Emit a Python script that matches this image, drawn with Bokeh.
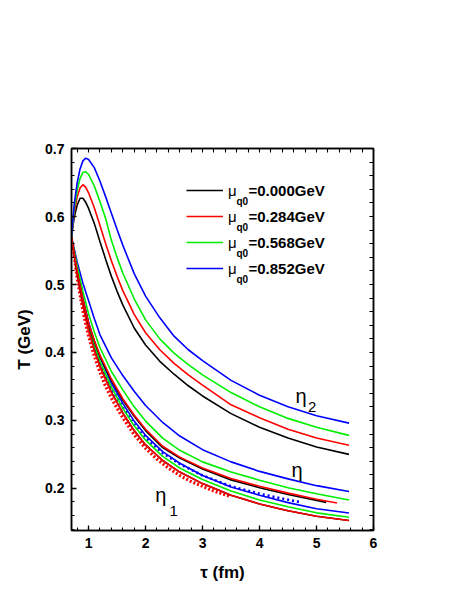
from bokeh.plotting import figure
from bokeh.models import (Range1d, LinearAxis, SingleIntervalTicker, FixedTicker, PrintfTickFormatter,
                          Label, Legend, LegendItem)
from bokeh.embed import file_html
from bokeh.resources import INLINE

# ---------------- data ----------------
tau_eta2 = [0.70, 0.75, 0.80, 0.85, 0.90, 0.95, 1.00, 1.10, 1.20, 1.30, 1.40, 1.50,
            1.60, 1.80, 2.00, 2.25, 2.50, 2.75, 3.00, 3.50, 4.00, 4.50, 5.00, 5.57]
T_eta2_black = [0.571, 0.600, 0.617, 0.627, 0.627, 0.621, 0.612, 0.590, 0.563, 0.537, 0.512, 0.490,
                0.470, 0.436, 0.411, 0.387, 0.368, 0.351, 0.336, 0.310, 0.290, 0.274, 0.261, 0.250]
T_eta2_red = [0.571, 0.607, 0.629, 0.642, 0.647, 0.643, 0.635, 0.613, 0.587, 0.560, 0.535, 0.512,
              0.491, 0.456, 0.429, 0.404, 0.384, 0.367, 0.352, 0.323, 0.304, 0.287, 0.274, 0.2635]
T_eta2_green = [0.571, 0.613, 0.639, 0.656, 0.665, 0.666, 0.662, 0.645, 0.622, 0.597, 0.565, 0.540,
                0.517, 0.479, 0.448, 0.420, 0.399, 0.382, 0.367, 0.341, 0.320, 0.303, 0.290, 0.278]
T_eta2_blue = [0.571, 0.620, 0.650, 0.670, 0.682, 0.686, 0.684, 0.672, 0.652, 0.629, 0.605, 0.581,
               0.558, 0.516, 0.483, 0.451, 0.424, 0.404, 0.388, 0.359, 0.337, 0.320, 0.307, 0.296]

tau_eta = [0.70, 0.80, 0.90, 1.00, 1.10, 1.20, 1.40, 1.60, 1.80, 2.00, 2.30, 2.60,
           3.00, 3.50, 4.00, 4.50, 5.00, 5.57]
T_eta_blue = [0.570, 0.533, 0.502, 0.476, 0.450, 0.426, 0.392, 0.366, 0.343, 0.322, 0.297, 0.277,
              0.257, 0.239, 0.225, 0.214, 0.204, 0.1955]
T_eta_green = [0.570, 0.527, 0.490, 0.457, 0.430, 0.407, 0.372, 0.345, 0.320, 0.299, 0.274, 0.256,
               0.239, 0.224, 0.212, 0.201, 0.192, 0.183]
tau_eta_black = [0.70, 0.80, 0.90, 1.00, 1.10, 1.20, 1.40, 1.60, 1.80, 2.00, 2.30, 2.60,
                 3.00, 3.50, 4.00, 4.50, 5.17]
T_eta_black = [0.570, 0.518, 0.477, 0.442, 0.417, 0.394, 0.359, 0.330, 0.306, 0.285, 0.260, 0.2447,
               0.2285, 0.2125, 0.201, 0.191, 0.1794]
tau_eta_red = [0.70, 0.80, 0.90, 1.00, 1.10, 1.20, 1.40, 1.60, 1.80, 2.00, 2.30, 2.60,
               3.00, 3.50, 4.00, 4.50, 5.00, 5.36]
T_eta_red = [0.570, 0.519, 0.478, 0.443, 0.418, 0.396, 0.361, 0.332, 0.308, 0.287, 0.262, 0.246,
             0.230, 0.2145, 0.203, 0.193, 0.184, 0.1784]

tau_eta1 = [0.70, 0.80, 0.90, 1.00, 1.10, 1.20, 1.40, 1.60, 1.80, 2.00, 2.30, 2.60,
            3.00, 3.50, 4.00, 4.50, 5.00, 5.57]
T_eta1_black = [0.570, 0.515, 0.470, 0.433, 0.404, 0.380, 0.342, 0.311, 0.285, 0.264, 0.241, 0.224,
                0.207, 0.190, 0.177, 0.167, 0.159, 0.1526]
T_eta1_red = [0.570, 0.514, 0.469, 0.432, 0.403, 0.379, 0.341, 0.311, 0.285, 0.264, 0.241, 0.224,
              0.207, 0.190, 0.177, 0.167, 0.159, 0.1526]
T_eta1_green = [0.570, 0.520, 0.476, 0.440, 0.411, 0.387, 0.349, 0.318, 0.292, 0.271, 0.247, 0.230,
                0.213, 0.196, 0.183, 0.173, 0.164, 0.1575]
T_eta1_blue = [0.570, 0.523, 0.480, 0.445, 0.416, 0.393, 0.355, 0.325, 0.299, 0.278, 0.254, 0.237,
               0.219, 0.202, 0.190, 0.179, 0.170, 0.1638]

tau_dots_red = [0.72, 0.76, 0.80, 0.85, 0.90, 0.95, 1.00, 1.10, 1.20, 1.30, 1.40, 1.50,
                1.60, 1.80, 2.00, 2.20, 2.40, 2.60, 2.80, 3.00, 3.20, 3.50]
T_dots_red = [0.560, 0.535, 0.510, 0.485, 0.462, 0.442, 0.424, 0.395, 0.371, 0.350, 0.333, 0.318,
              0.304, 0.279, 0.259, 0.243, 0.230, 0.219, 0.210, 0.203, 0.196, 0.188]
tau_dots_blue = [1.10, 1.20, 1.40, 1.60, 1.80, 2.00, 2.30, 2.60, 3.00, 3.50, 4.00, 4.40, 4.70]
T_dots_blue = [0.405, 0.383, 0.348, 0.319, 0.294, 0.274, 0.252, 0.236, 0.219, 0.203, 0.192, 0.185, 0.180]

mu_labels = ["0.000GeV", "0.284GeV", "0.568GeV", "0.852GeV"]
colors = ["#000000", "#FF0000", "#00EE00", "#0000FF"]

x_ticks_minor = [round(0.8 + 0.2 * i, 2) for i in range(27)]
y_ticks_minor = [round(0.14 + 0.02 * i, 2) for i in range(29)]

FONT = "Liberation Sans"

p = figure(width=428, height=584, output_backend="svg", toolbar_location=None,
           x_range=Range1d(0.7, 6.0), y_range=Range1d(0.138, 0.7002),
           min_border_left=71, min_border_right=55, min_border_top=148, min_border_bottom=51)
p.xgrid.visible = False
p.ygrid.visible = False
p.outline_line_color = "black"
p.outline_line_width = 1.5
p.background_fill_color = "white"
p.border_fill_color = "white"

LW = 1.6
# dotted numeric series
p.line(tau_dots_red, T_dots_red, line_color="#FF0000", line_width=3.2, line_dash="2 2")
p.line(tau_dots_blue, T_dots_blue, line_color="#0000FF", line_width=2.6, line_dash="2 3")

# lower (eta1) group
p.line(tau_eta1, T_eta1_blue, line_color=colors[3], line_width=LW)
p.line(tau_eta1, T_eta1_green, line_color=colors[2], line_width=LW)
p.line(tau_eta1, T_eta1_black, line_color=colors[0], line_width=LW)
p.line(tau_eta1, T_eta1_red, line_color=colors[1], line_width=LW)
# middle (eta) group
p.line(tau_eta, T_eta_blue, line_color=colors[3], line_width=LW)
p.line(tau_eta, T_eta_green, line_color=colors[2], line_width=LW)
p.line(tau_eta_black, T_eta_black, line_color=colors[0], line_width=LW)
p.line(tau_eta_red, T_eta_red, line_color=colors[1], line_width=LW)
# upper (eta2) group
r_black = p.line(tau_eta2, T_eta2_black, line_color=colors[0], line_width=LW)
r_red = p.line(tau_eta2, T_eta2_red, line_color=colors[1], line_width=LW)
r_green = p.line(tau_eta2, T_eta2_green, line_color=colors[2], line_width=LW)
r_blue = p.line(tau_eta2, T_eta2_blue, line_color=colors[3], line_width=LW)

# axes
def style_axis(ax, ticker):
    ax.ticker = ticker
    ax.axis_line_width = 1.5
    ax.major_tick_line_width = 1.3
    ax.minor_tick_line_width = 1.1
    ax.major_tick_in = 5
    ax.major_tick_out = 0
    ax.minor_tick_in = 3
    ax.minor_tick_out = 0
    ax.major_label_text_font = FONT
    ax.major_label_text_font_style = "bold"
    ax.major_label_text_font_size = "14px"
    ax.major_label_text_color = "black"

style_axis(p.xaxis[0], SingleIntervalTicker(interval=1, num_minor_ticks=5))
style_axis(p.yaxis[0], SingleIntervalTicker(interval=0.1, num_minor_ticks=5))
p.xaxis[0].formatter = PrintfTickFormatter(format="%d")
p.yaxis[0].formatter = PrintfTickFormatter(format="%.1f")
p.xaxis[0].major_label_standoff = 7
p.yaxis[0].major_label_standoff = 7
p.xaxis[0].axis_label = "τ (fm)"
p.yaxis[0].axis_label = "T (GeV)"
for ax in (p.xaxis[0], p.yaxis[0]):
    ax.axis_label_text_font = FONT
    ax.axis_label_text_font_style = "bold"
    ax.axis_label_text_font_size = "17px"
    ax.axis_label_text_color = "black"
p.xaxis[0].axis_label_standoff = 12
p.yaxis[0].axis_label_standoff = 8

# mirror axes: ticks only, no labels
top_ax = LinearAxis(ticker=FixedTicker(ticks=[], minor_ticks=x_ticks_minor))
right_ax = LinearAxis(ticker=FixedTicker(ticks=[], minor_ticks=y_ticks_minor))
for ax in (top_ax, right_ax):
    ax.axis_line_width = 1.5
    ax.minor_tick_line_width = 1.1
    ax.minor_tick_in = 4
    ax.minor_tick_out = 0
    ax.major_tick_in = 0
    ax.major_tick_out = 0
    ax.major_label_standoff = 0
p.add_layout(top_ax, "above")
p.add_layout(right_ax, "right")

# legend (swatches via Legend, subscript text via labels)
items = [LegendItem(label="μ", renderers=[r]) for r in (r_black, r_red, r_green, r_blue)]
legend = Legend(items=items, location=(115, 252), orientation="vertical",
                padding=0, spacing=6, glyph_width=37, glyph_height=20, label_height=20,
                label_standoff=5, border_line_color=None, background_fill_alpha=0,
                label_text_font="Liberation Sans", label_text_font_size="15px",
                label_text_color="black")
p.add_layout(legend, "center")
for i, lab in enumerate(mu_labels):
    yc = 340 - 26 * i
    p.add_layout(Label(x=165, y=yc - 11, x_units="screen", y_units="screen", text="q0",
                       text_font=FONT, text_font_style="bold", text_font_size="10px",
                       text_baseline="middle", text_color="black"))
    p.add_layout(Label(x=177, y=yc, x_units="screen", y_units="screen", text="=" + lab,
                       text_font=FONT, text_font_style="bold", text_font_size="15px",
                       text_baseline="middle", text_color="black"))

# curve-group labels
def eta_label(x, y, sub, xs, ys):
    p.add_layout(Label(x=x, y=y, text="η", text_font=FONT, text_font_size="20px",
                       text_baseline="alphabetic", text_color="black"))
    if sub:
        p.add_layout(Label(x=xs, y=ys, text=sub, text_font=FONT, text_font_size="15px",
                           text_baseline="alphabetic", text_color="black"))

eta_label(4.63, 0.336, "2", 4.85, 0.320)
eta_label(4.56, 0.2273, "", 0, 0)
eta_label(2.17, 0.1908, "1", 2.42, 0.1667)

open("out.html", "w").write(file_html(p, INLINE))
